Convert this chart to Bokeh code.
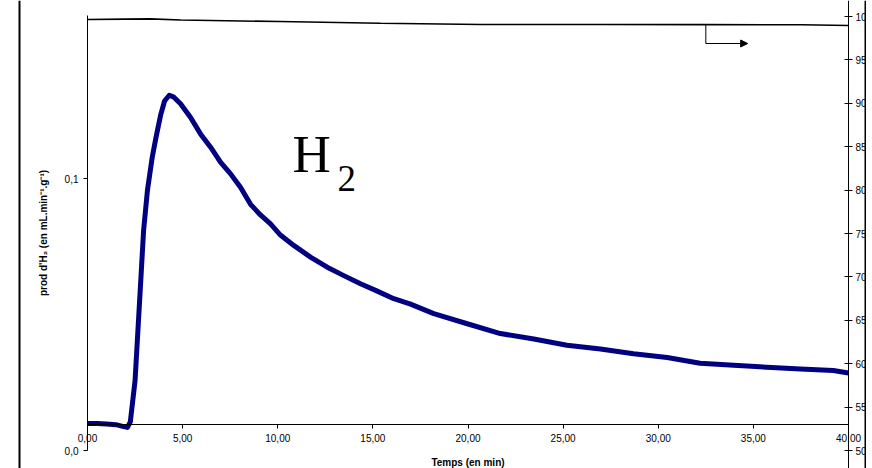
import numpy as np
from bokeh.plotting import figure
from bokeh.models import (LinearAxis, Range1d, FixedTicker, Span, Arrow,
                          NormalHead, Label, Grid)
from bokeh.embed import file_html
from bokeh.resources import INLINE

# ---------------- data ----------------
time_h2 = [0, 0.5, 1.0, 1.5, 1.9, 2.1, 2.25, 2.5, 2.6, 2.8, 2.95, 3.15, 3.4,
           3.6, 3.85, 4.05, 4.3, 4.54, 4.89, 5.41, 5.94, 6.47, 6.99, 7.52,
           8.04, 8.57, 9.09, 9.62, 10.14, 10.84, 11.72, 12.6, 13.47, 14.35,
           15.23, 16.1, 16.98, 18.2, 19.96, 21.7, 23.46, 25.2, 26.96, 28.7,
           30.47, 32.2, 33.97, 35.7, 37.48, 39.2, 40.0]
prod_h2 = [0.0099, 0.0099, 0.0097, 0.0095, 0.0088, 0.0085, 0.0105, 0.0257,
           0.0380, 0.0625, 0.0810, 0.0956, 0.1077, 0.1151, 0.1235, 0.1285,
           0.1306, 0.1299, 0.1275, 0.1225, 0.1164, 0.1115, 0.1060, 0.1017,
           0.0968, 0.0905, 0.0866, 0.0833, 0.0792, 0.0754, 0.0711, 0.0674,
           0.0643, 0.0613, 0.0586, 0.0558, 0.0538, 0.0503, 0.0466, 0.0430,
           0.0410, 0.0387, 0.0373, 0.0356, 0.0342, 0.0321, 0.0313, 0.0306,
           0.0300, 0.0294, 0.0285]

time_pct = [0, 2.0, 3.3, 4.9, 10.1, 15.4, 20.7, 27.0, 32.5, 37.5, 40.0]
pct = [99.65, 99.70, 99.73, 99.59, 99.42, 99.23, 99.08, 99.08, 99.06, 99.05,
       98.96]

x_ticks = [0, 5, 10, 15, 20, 25, 30, 35, 40]
x_tick_labels = ["0,00", "5,00", "10,00", "15,00", "20,00", "25,00",
                 "30,00", "35,00", "40,00"]
left_ticks = [0.0, 0.1]
left_tick_labels = ["0,0", "0,1"]
right_ticks = [50, 55, 60, 65, 70, 75, 80, 85, 90, 95, 100]

x_title = "Temps (en min)"
y_title = "prod d'H\u2082 (en mL.min\u207b\u00b9.g\u207b\u00b9)"
arrow_at = 32.5
arrow_to = 34.7

# ---------------- layout (page pixels) ----------------
PAGE = 0
W, H = 866, 468
X0_PX, X40_PX = 87, 848          # t = 0 and t = 40
YL0_PX, YL1_PX = 450, 178        # left axis 0.0 and 0.1
YR50_PX, YR100_PX = 450, 16      # right axis 50 and 100
XAXIS_PX = 424                   # where the time axis crosses
ARROW_Y_PX = 43

sx = (X40_PX - X0_PX) / 40.0
sl = (YL0_PX - YL1_PX) / 0.1
sr = (YR50_PX - YR100_PX) / 50.0

x_start = (PAGE - X0_PX) / sx
x_end = 40 + (PAGE + W - X40_PX) / sx
yl_start = (YL0_PX - (PAGE + H)) / sl
yl_end = (YL0_PX - PAGE) / sl
yr_start = 50 - ((PAGE + H) - YR50_PX) / sr
yr_end = 50 + (YR50_PX - PAGE) / sr

def px_to_x(px):
    return (px - X0_PX) / sx

def px_to_yl(py):
    return (YL0_PX - py) / sl

def px_to_yr(py):
    return 50 + (YR50_PX - py) / sr

p = figure(width=W, height=H, output_backend="svg", toolbar_location=None,
           x_axis_location=None, y_axis_location=None, title=None,
           x_range=Range1d(x_start, x_end), y_range=Range1d(yl_start, yl_end),
           min_border=0)
p.extra_y_ranges = {"right": Range1d(yr_start, yr_end)}
p.center = [r for r in p.center if not isinstance(r, Grid)]
p.outline_line_color = None
p.background_fill_color = "white"
p.border_fill_color = "white"

FONT = "Liberation Sans"

def style_axis(ax):
    ax.axis_line_color = "black"
    ax.axis_line_width = 1
    ax.major_tick_line_color = "black"
    ax.minor_tick_line_color = None
    ax.major_label_text_font = FONT
    ax.major_label_text_font_size = "10px"
    ax.major_label_text_color = "black"
    ax.axis_label_text_font = FONT
    ax.axis_label_text_font_size = "10px"
    ax.axis_label_text_font_style = "bold"
    ax.axis_label_text_color = "black"

xaxis = LinearAxis(ticker=FixedTicker(ticks=x_ticks),
                   major_label_overrides=dict(zip(x_ticks, x_tick_labels)),
                   axis_label=x_title, fixed_location=px_to_yl(XAXIS_PX),
                   bounds=(0, 40))
style_axis(xaxis)
xaxis.major_tick_in = 0
xaxis.major_tick_out = 4
xaxis.major_label_standoff = 5
xaxis.axis_label_standoff = 12
p.add_layout(xaxis, "below")

yaxis = LinearAxis(ticker=FixedTicker(ticks=left_ticks),
                   major_label_overrides=dict(zip(left_ticks, left_tick_labels)),
                   axis_label=y_title, fixed_location=0,
                   bounds=(0, 0.16))
style_axis(yaxis)
yaxis.major_tick_in = 0
yaxis.major_tick_out = 4
yaxis.major_label_standoff = 5
yaxis.axis_label_standoff = 13
p.add_layout(yaxis, "left")

raxis = LinearAxis(y_range_name="right", ticker=FixedTicker(ticks=right_ticks),
                   fixed_location=40)
style_axis(raxis)
raxis.major_tick_in = 4
raxis.major_tick_out = 4
raxis.major_label_standoff = 3
p.add_layout(raxis, "right")

# outer vertical rules
p.add_layout(Span(location=px_to_x(19), dimension="height",
                  line_color="black", line_width=2))
p.add_layout(Span(location=px_to_x(865), dimension="height",
                  line_color="black", line_width=2))

# series
p.line(time_h2, prod_h2, line_color="#000080", line_width=5,
       line_join="round")
p.line(time_pct, pct, y_range_name="right", line_color="black",
       line_width=1.6)

# arrow pointing to the right axis
y_arrow_top = float(np.interp(arrow_at, time_pct, pct))
y_arrow = px_to_yr(ARROW_Y_PX)
p.add_layout(Arrow(x_start=arrow_at, y_start=y_arrow_top, x_end=arrow_at,
                   y_end=y_arrow, end=None, line_color="black", line_width=1,
                   y_range_name="right"))
p.add_layout(Arrow(x_start=arrow_at, y_start=y_arrow, x_end=arrow_to,
                   y_end=y_arrow, line_color="black", line_width=1,
                   end=NormalHead(size=7, fill_color="black",
                                  line_color="black"),
                   y_range_name="right"))

# H2 label
p.add_layout(Label(x=px_to_x(292), y=px_to_yl(153), text="H",
                   text_font="Liberation Serif", text_font_size="53px",
                   text_baseline="alphabetic", text_align="left",
                   text_color="black"))
p.add_layout(Label(x=px_to_x(337), y=px_to_yl(178), text="2",
                   text_font="Liberation Serif", text_font_size="37px",
                   text_baseline="alphabetic", text_align="left",
                   text_color="black"))

open("out.html", "w").write(file_html(p, INLINE))
